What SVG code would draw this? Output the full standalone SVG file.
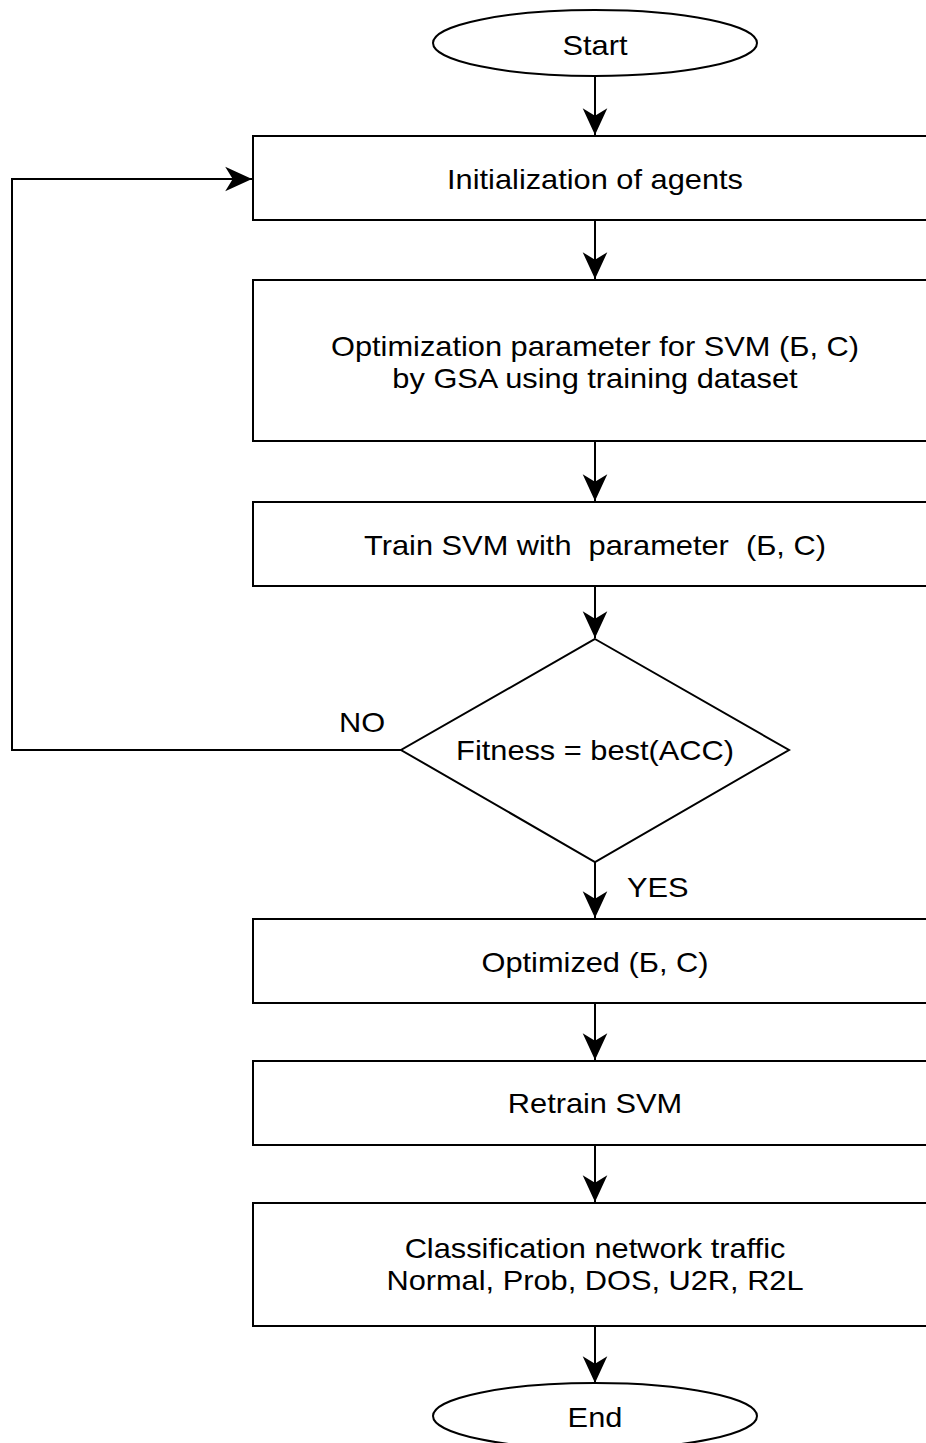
<svg xmlns="http://www.w3.org/2000/svg" width="926" height="1443" viewBox="0 0 926 1443">
<style>
.s{fill:#fff;stroke:#000;stroke-width:2}
.c{fill:none;stroke:#000;stroke-width:2}
.t{font-family:"Liberation Sans",Arial,sans-serif;font-size:27px;fill:#000;text-anchor:middle}
.l{font-family:"Liberation Sans",Arial,sans-serif;font-size:27px;fill:#000;text-anchor:start}
</style>
<defs>
<marker id="a" markerUnits="userSpaceOnUse" markerWidth="30" markerHeight="30" viewBox="-26 -13 28 26" refX="0" refY="0" orient="auto">
<path d="M0,0 L-25,-11.5 L-18,0 L-25,11.5 Z" fill="#000"/>
</marker>
</defs>
<rect width="926" height="1443" fill="#fff"/>
<g id="connectors">
<line class="c" x1="595" y1="76" x2="595" y2="135" marker-end="url(#a)"/>
<line class="c" x1="595" y1="220" x2="595" y2="279" marker-end="url(#a)"/>
<line class="c" x1="595" y1="441" x2="595" y2="501" marker-end="url(#a)"/>
<line class="c" x1="595" y1="586" x2="595" y2="638" marker-end="url(#a)"/>
<line class="c" x1="595" y1="862" x2="595" y2="918" marker-end="url(#a)"/>
<line class="c" x1="595" y1="1003" x2="595" y2="1060" marker-end="url(#a)"/>
<line class="c" x1="595" y1="1145" x2="595" y2="1202" marker-end="url(#a)"/>
<line class="c" x1="595" y1="1326" x2="595" y2="1383" marker-end="url(#a)"/>
<polyline class="c" points="401,750 12,750 12,179 252,179" marker-end="url(#a)"/>
<text class="l" transform="translate(339 732) scale(1.14 1)">NO</text>
<text class="l" transform="translate(627 897) scale(1.14 1)">YES</text>
</g>
<g id="start">
<ellipse class="s" cx="595" cy="43" rx="162" ry="33"/>
<text class="t" transform="translate(595 55) scale(1.14 1)">Start</text>
</g>
<g id="init">
<rect class="s" x="253" y="136" width="690" height="84"/>
<text class="t" transform="translate(595 189) scale(1.14 1)">Initialization of agents</text>
</g>
<g id="optimize">
<rect class="s" x="253" y="280" width="690" height="161"/>
<text class="t" transform="translate(595 356) scale(1.14 1)">Optimization parameter for SVM (Б, C)</text>
<text class="t" transform="translate(595 388) scale(1.14 1)">by GSA using training dataset</text>
</g>
<g id="train">
<rect class="s" x="253" y="502" width="690" height="84"/>
<text class="t" transform="translate(595 555) scale(1.14 1)" xml:space="preserve">Train SVM with  parameter  (Б, C)</text>
</g>
<g id="fitness">
<polygon class="s" points="595,639 789,750 595,862 401,750"/>
<text class="t" transform="translate(595 760) scale(1.14 1)">Fitness = best(ACC)</text>
</g>
<g id="optimized">
<rect class="s" x="253" y="919" width="690" height="84"/>
<text class="t" transform="translate(595 972) scale(1.14 1)">Optimized (Б, C)</text>
</g>
<g id="retrain">
<rect class="s" x="253" y="1061" width="690" height="84"/>
<text class="t" transform="translate(595 1113) scale(1.14 1)">Retrain SVM</text>
</g>
<g id="classify">
<rect class="s" x="253" y="1203" width="690" height="123"/>
<text class="t" transform="translate(595 1258) scale(1.14 1)">Classification network traffic</text>
<text class="t" transform="translate(595 1290) scale(1.14 1)">Normal, Prob, DOS, U2R, R2L</text>
</g>
<g id="end">
<ellipse class="s" cx="595" cy="1416" rx="162" ry="33"/>
<text class="t" transform="translate(595 1427) scale(1.14 1)">End</text>
</g>
</svg>
